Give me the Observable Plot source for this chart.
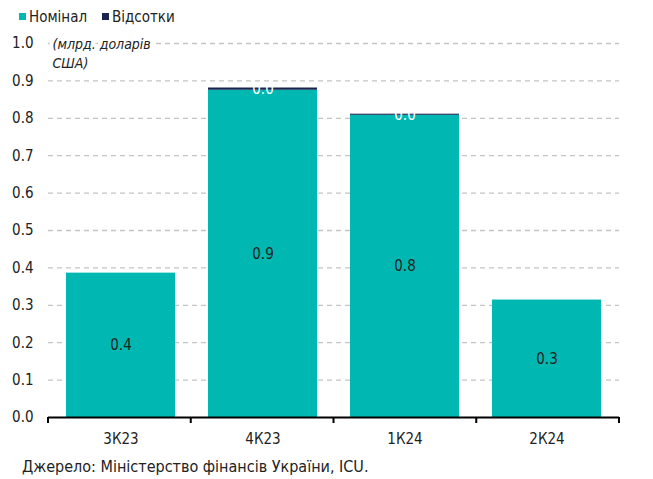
<!DOCTYPE html>
<html><head><meta charset="utf-8">
<script src="https://cdn.jsdelivr.net/npm/d3@7"></script>
<script src="https://cdn.jsdelivr.net/npm/@observablehq/plot@0.6"></script>
<style>
body{margin:0;background:#fff;font-family:"Liberation Sans Narrow","DejaVu Sans Condensed",sans-serif;color:#222;}
#wrap{position:relative;width:653px;height:479px;overflow:hidden;}
#legend{position:relative;height:28px;font-size:15px;}
#legend .sw{position:absolute;width:7px;height:7px;top:13px;}
#legend .lb{position:absolute;top:8px;line-height:18px;}
#caption{position:absolute;left:22px;top:458px;font-size:16px;line-height:18px;}
#chart{position:absolute;left:0;top:28px;}
</style></head><body>
<div id="wrap">
<div id="legend"></div>
<div id="chart"></div>
<div id="caption"></div>
</div>
<script>
const quarters = ["3К23", "4К23", "1К24", "2К24"];
const seriesNames = ["Номінал", "Відсотки"];
const nominal = [0.386, 0.875, 0.808, 0.314];
const interest = [0, 0.006, 0.003, 0];
const yTicks = [0, 0.1, 0.2, 0.3, 0.4, 0.5, 0.6, 0.7, 0.8, 0.9, 1.0];
const colors = ["#00b8b1", "#18264f"];
const yLabel = "(млрд. доларів\nСША)";
const captionText = "Джерело: Міністерство фінансів України, ICU.";

const FONT = '"Liberation Sans Narrow","DejaVu Sans Condensed",sans-serif';

const rows = [];
quarters.forEach((q, i) => {
  rows.push({q, s: seriesNames[0], v: nominal[i]});
  if (interest[i] > 0) rows.push({q, s: seriesNames[1], v: interest[i]});
});

// legend
const legend = document.getElementById("legend");
const legendX = [[19, 29], [102, 112]];
seriesNames.forEach((name, i) => {
  const sw = document.createElement("div");
  sw.className = "sw"; sw.style.left = legendX[i][0] + "px"; sw.style.background = colors[i];
  const lb = document.createElement("div");
  lb.className = "lb"; lb.style.left = legendX[i][1] + "px"; lb.textContent = name;
  legend.append(sw, lb);
});
document.getElementById("caption").textContent = captionText;

function boundaryTicks(index, scales, values, dims) {
  const g = d3.create("svg:g");
  const left = dims.marginLeft, right = dims.width - dims.marginRight;
  const y0 = scales.y(0);
  const n = quarters.length, step = (right - left) / n;
  const d = d3.range(n + 1).map(i => `M${left + i * step},${y0}v6`).join("");
  g.append("path").attr("d", d).attr("stroke", "black").attr("stroke-width", 2).attr("fill", "none");
  return g.node();
}

const chart = Plot.plot({
  width: 653,
  height: 425,
  marginTop: 15,
  marginLeft: 48,
  marginRight: 34,
  marginBottom: 36,
  style: {fontFamily: FONT, fontSize: "15px", color: "#222", background: "white", overflow: "visible"},
  x: {domain: quarters, paddingInner: 0.23, paddingOuter: 0.115, label: null, tickSize: 0, tickPadding: 16},
  y: {domain: [0, 1], ticks: yTicks, tickFormat: d3.format(".1f"), label: null, tickSize: 0, tickPadding: 15},
  color: {domain: seriesNames, range: colors},
  marks: [
    Plot.gridY(yTicks.filter(d => d > 0), {stroke: "#c4c4c4", strokeOpacity: 1, strokeDasharray: "5,4", strokeWidth: 1.3}),
    Plot.barY(rows, Plot.stackY({x: "q", y: "v", fill: "s", order: seriesNames})),
    Plot.text(rows.filter(d => d.s === seriesNames[0]), Plot.stackY({x: "q", y: "v", text: d => d.v.toFixed(1), fill: "#222"})),
    Plot.text(rows, Plot.stackY({x: "q", y: "v", z: "s", order: seriesNames, text: d => d.s === seriesNames[1] ? d.v.toFixed(1) : null, fill: "white"})),
    Plot.ruleY([0], {stroke: "black", strokeWidth: 2}),
    boundaryTicks,
    Plot.text([yLabel], {frameAnchor: "top-left", dx: 4, dy: -8, lineAnchor: "top", textAnchor: "start", lineHeight: 1.36, fontSize: 14, fontStyle: "italic", fill: "#222", stroke: "white", strokeWidth: 8})
  ]
});
document.getElementById("chart").append(chart);
</script>
</body></html>
